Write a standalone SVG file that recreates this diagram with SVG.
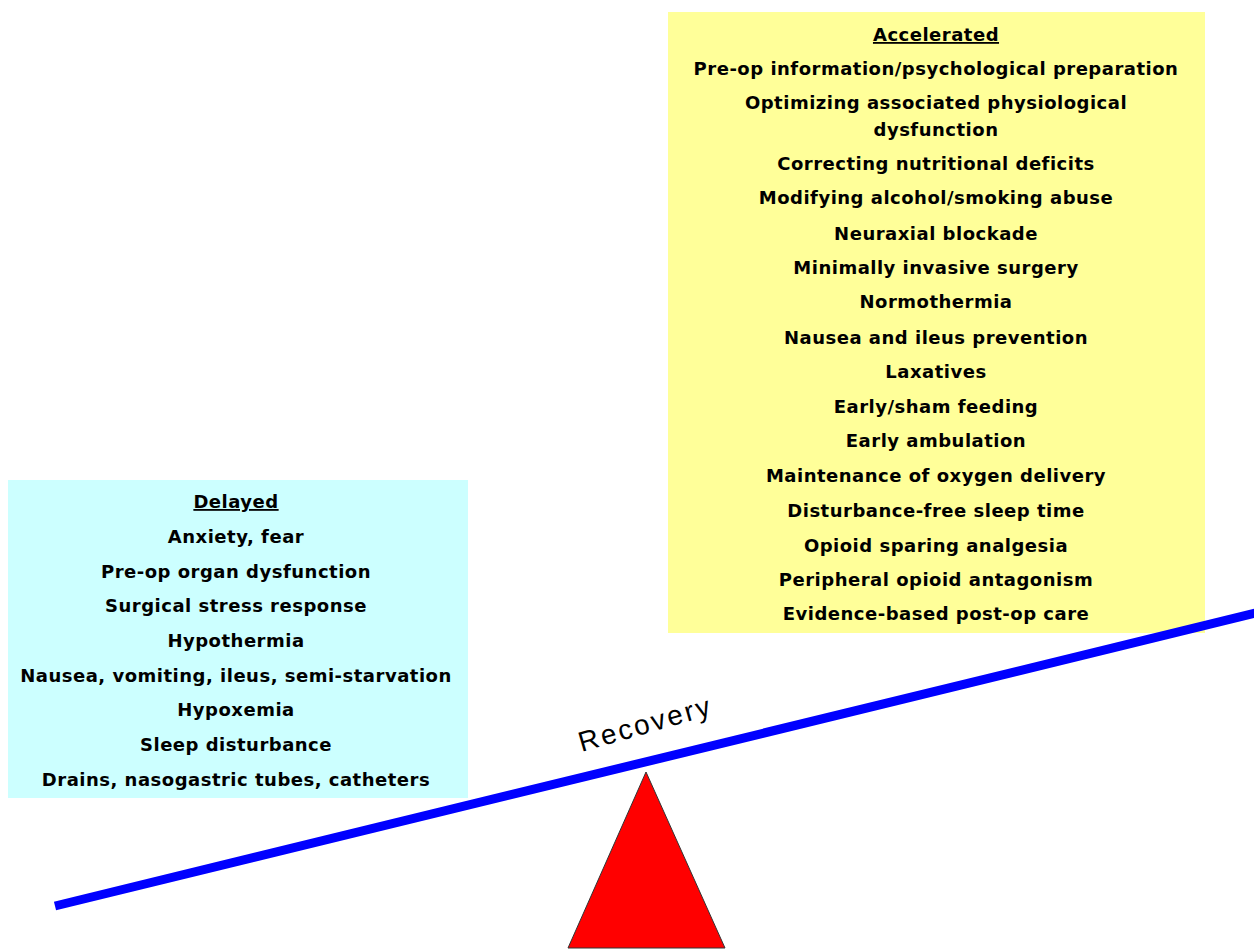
<svg xmlns="http://www.w3.org/2000/svg" width="1254" height="950" viewBox="0 0 1254 950">
<style>
.t{font-family:"DejaVu Sans","Liberation Sans",Arial,sans-serif;font-weight:bold;font-size:18px;letter-spacing:0.5px;fill:#000;text-anchor:middle}
.h{text-decoration:underline}
</style>
<rect width="1254" height="950" fill="#fff"/>
<g id="accelerated">
<rect x="668" y="12" width="537" height="621" fill="#FFFF99"/>
<text class="t h" x="936" y="41">Accelerated</text>
<text class="t" x="936" y="75">Pre-op information/psychological preparation</text>
<text class="t" x="936" y="109">Optimizing associated physiological</text>
<text class="t" x="936" y="136">dysfunction</text>
<text class="t" x="936" y="170">Correcting nutritional deficits</text>
<text class="t" x="936" y="204">Modifying alcohol/smoking abuse</text>
<text class="t" x="936" y="240">Neuraxial blockade</text>
<text class="t" x="936" y="274">Minimally invasive surgery</text>
<text class="t" x="936" y="308">Normothermia</text>
<text class="t" x="936" y="344">Nausea and ileus prevention</text>
<text class="t" x="936" y="378">Laxatives</text>
<text class="t" x="936" y="413">Early/sham feeding</text>
<text class="t" x="936" y="447">Early ambulation</text>
<text class="t" x="936" y="482">Maintenance of oxygen delivery</text>
<text class="t" x="936" y="517">Disturbance-free sleep time</text>
<text class="t" x="936" y="552">Opioid sparing analgesia</text>
<text class="t" x="936" y="586">Peripheral opioid antagonism</text>
<text class="t" x="936" y="620">Evidence-based post-op care</text>
</g>
<g id="delayed">
<rect x="8" y="480" width="460" height="318" fill="#CCFFFF"/>
<text class="t h" x="236" y="508">Delayed</text>
<text class="t" x="236" y="543">Anxiety, fear</text>
<text class="t" x="236" y="578">Pre-op organ dysfunction</text>
<text class="t" x="236" y="612">Surgical stress response</text>
<text class="t" x="236" y="647">Hypothermia</text>
<text class="t" x="236" y="682">Nausea, vomiting, ileus, semi-starvation</text>
<text class="t" x="236" y="716">Hypoxemia</text>
<text class="t" x="236" y="751">Sleep disturbance</text>
<text class="t" x="236" y="786">Drains, nasogastric tubes, catheters</text>
</g>
<g id="connectors">
<line x1="55" y1="906" x2="1260" y2="612" stroke="#0000FF" stroke-width="9"/>
</g>
<g id="fulcrum">
<polygon points="646,772 568,948 725,948" fill="#FF0000" stroke="#333" stroke-width="1"/>
</g>
<g id="recovery-label">
<text x="648" y="733" transform="rotate(-16 648 733)" font-family="'Liberation Sans',Arial,sans-serif" font-size="28" letter-spacing="2.5" text-anchor="middle" fill="#000">Recovery</text>
</g>
</svg>
